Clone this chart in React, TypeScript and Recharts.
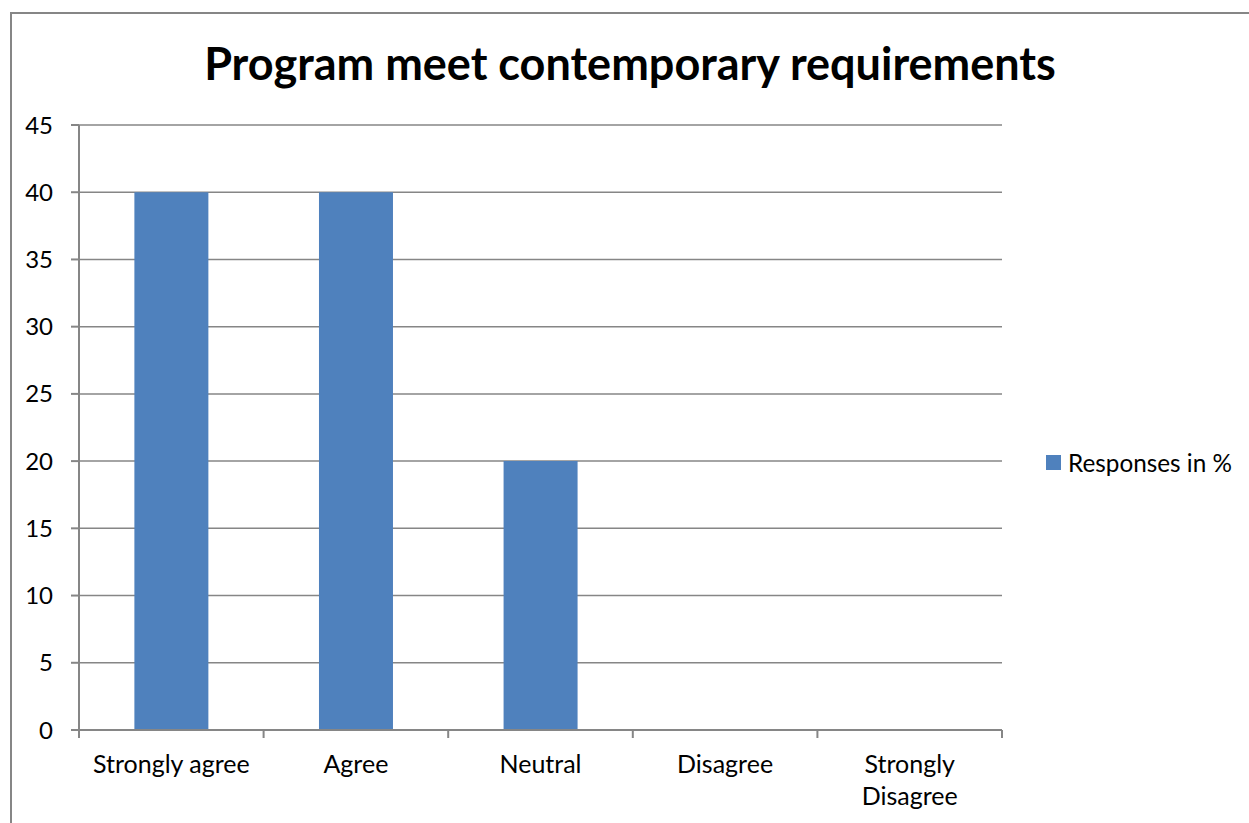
import React from 'react';
import { BarChart, Bar, XAxis, YAxis, CartesianGrid, Legend } from 'recharts';

const categories = ['Strongly agree', 'Agree', 'Neutral', 'Disagree', 'Strongly Disagree'];
const responses = [40, 40, 20, 0, 0];
const yTicks = [0, 5, 10, 15, 20, 25, 30, 35, 40, 45];

const seriesName = 'Responses in %';
const chartTitle = 'Program meet contemporary requirements';

const data = categories.map((name, i) => ({ name, value: responses[i] }));

const FONT = 'Lato, "Open Sans", sans-serif';
const GRAY = '#868686';
const BLUE = '#4F81BD';

const CategoryTick = (props: any) => {
    const { x, y, payload, index, visibleTicksCount, width } = props;
    const count = visibleTicksCount || categories.length;
    const band = (width || 923) / count;
    const label: string = String(payload.value);
    const lines = label.length > 15 ? [label.slice(0, label.indexOf(' ')), label.slice(label.indexOf(' ') + 1)] : [label];
    return (
        <g>
            <line x1={x - band / 2} x2={x - band / 2} y1={y} y2={y + 8} stroke={GRAY} strokeWidth={2} />
            {index === count - 1 && (
                <line x1={x + band / 2} x2={x + band / 2} y1={y} y2={y + 8} stroke={GRAY} strokeWidth={2} />
            )}
            {lines.map((ln, i) => (
                <text key={i} x={x} y={y + 43 + i * 32} textAnchor="middle" fontFamily={FONT} fontSize={25} fill="#000">
                    {ln}
                </text>
            ))}
        </g>
    );
};

const LegendContent = (props: any) => {
    const { payload } = props;
    return (
        <div style={{ fontFamily: FONT, fontSize: 24.3, color: '#000' }}>
            {(payload || []).map((entry: any, i: number) => (
                <div key={i} style={{ display: 'flex', alignItems: 'center' }}>
                    <span style={{ display: 'inline-block', width: 15, height: 15, background: entry.color, marginRight: 7 }} />
                    <span>{entry.value}</span>
                </div>
            ))}
        </div>
    );
};

const App: React.FC = () => {
    return (
        <div style={{ position: 'absolute', left: 0, top: 0, width: 1249, height: 823, overflow: 'hidden', background: '#fff' }}>
            <div style={{ position: 'absolute', left: 10, top: 12, width: 1300, height: 900, border: `2px solid ${GRAY}` }} />
            <div
                style={{
                    position: 'absolute',
                    left: 0,
                    top: 36,
                    width: 1260,
                    textAlign: 'center',
                    fontFamily: FONT,
                    fontWeight: 700,
                    fontSize: 45,
                    lineHeight: '54px',
                    color: '#000',
                }}
            >
                {chartTitle}
            </div>
            <div style={{ position: 'absolute', left: 0, top: 0 }}>
                <BarChart width={1249} height={823} data={data} margin={{ top: 125, right: 47, bottom: 0, left: 0 }} barCategoryGap="30%">
                    <CartesianGrid horizontal vertical={false} stroke={GRAY} strokeWidth={1.5} />
                    <YAxis
                        width={79}
                        domain={[0, 45]}
                        ticks={yTicks}
                        interval={0}
                        tickSize={8}
                        tickMargin={18}
                        axisLine={{ stroke: GRAY, strokeWidth: 2 }}
                        tickLine={{ stroke: GRAY, strokeWidth: 2 }}
                        tick={{ fontFamily: FONT, fontSize: 24, fill: '#000' }}
                    />
                    <XAxis
                        dataKey="name"
                        height={93}
                        interval={0}
                        tickSize={0}
                        tickMargin={0}
                        tickLine={false}
                        axisLine={{ stroke: GRAY, strokeWidth: 2 }}
                        tick={<CategoryTick />}
                    />
                    <Legend
                        layout="vertical"
                        align="right"
                        verticalAlign="middle"
                        content={<LegendContent />}
                        wrapperStyle={{ left: 1046, top: 448, width: 200 }}
                    />
                    <Bar dataKey="value" name={seriesName} fill={BLUE} isAnimationActive={false} />
                </BarChart>
            </div>
        </div>
    );
};

export default App;
